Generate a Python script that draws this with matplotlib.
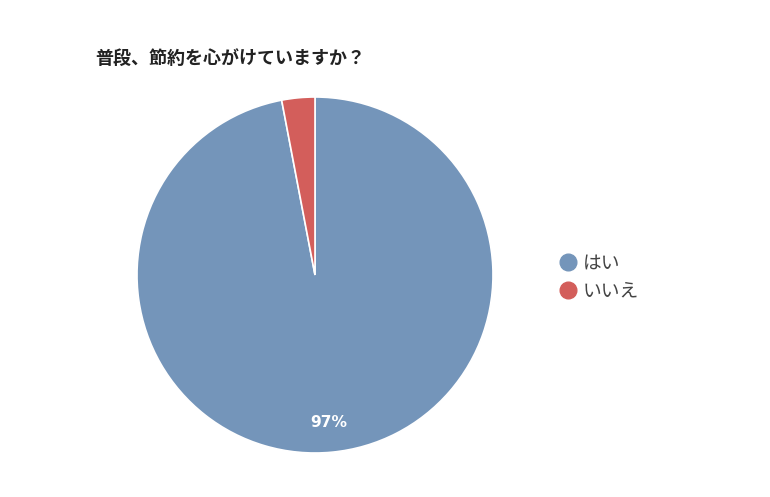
import matplotlib.pyplot as plt
from matplotlib.lines import Line2D

plt.rcParams["font.family"] = ["Noto Sans CJK JP", "DejaVu Sans"]

title = "普段、節約を心がけていますか？"
labels = ["はい", "いいえ"]
values = [97, 3]
colors = ["#7495BA", "#D35E5B"]

W, H = 770, 497
fig = plt.figure(figsize=(W / 100, H / 100), dpi=100)

# pie box in pixels: center (315, 275), radius 178
cx, cy, r = 315, 275, 178
ax = fig.add_axes([(cx - r) / W, (H - cy - r) / H, 2 * r / W, 2 * r / H])


def fmt(p):
    return f"{p:.0f}%" if p > 10 else ""


wedges, _, autotexts = ax.pie(
    values,
    colors=colors,
    startangle=90,
    counterclock=False,
    autopct=fmt,
    pctdistance=0.835,
    radius=1.0,
    wedgeprops=dict(edgecolor="white", linewidth=1.2),
    textprops=dict(color="white", fontsize=11.2, fontweight="bold", family=["DejaVu Sans"]),
)
ax.set_xlim(-1, 1)
ax.set_ylim(-1, 1)
ax.set_aspect("equal")

fig.text(95 / W, 1 - 58 / H, title, fontsize=13, fontweight="bold",
         color="#222222", va="center", ha="left")

handles = [
    Line2D([], [], marker="o", linestyle="none", markersize=12,
           markerfacecolor=c, markeredgecolor=c)
    for c in colors
]
leg = fig.legend(handles, labels, loc="center left",
                 bbox_to_anchor=(540 / W, 1 - 277 / H), frameon=False,
                 fontsize=13.5, handletextpad=0.2, labelspacing=0.4,
                 handlelength=1.2, labelcolor="#444444")

fig.savefig("out.png", dpi=100)
